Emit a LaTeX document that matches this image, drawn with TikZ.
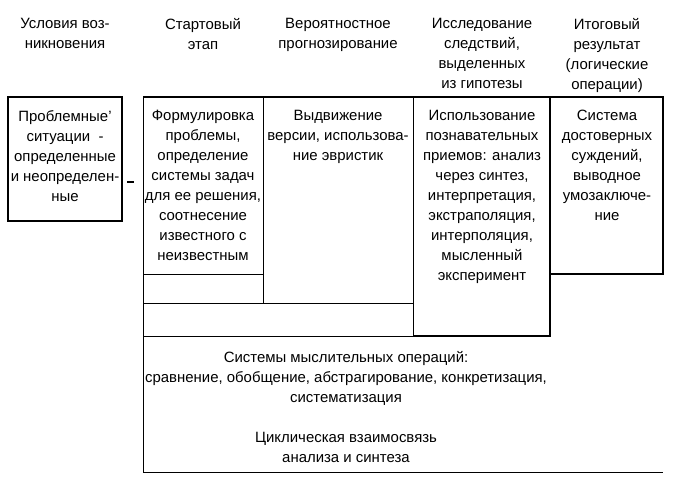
\documentclass[tikz,border=0pt]{standalone}
\usepackage{fontspec}
\setmainfont{Liberation Sans}

\begin{document}
\begin{tikzpicture}[x=0.75pt,y=-0.75pt,
	txt/.style={align=center,anchor=north,inner sep=0pt,font=\fontsize{11.2}{15}\selectfont},
	thin line/.style={line width=0.75pt},
	bold line/.style={line width=1.5pt}]
	\useasboundingbox (0,0) rectangle (673,482);

	% table grid
	\draw[thin line] (143,97) -- (143,472) -- (663,472);
	\draw[thin line] (263,97) -- (263,303);
	\draw[thin line] (413,97) -- (413,336);
	\draw[thin line] (143,274) -- (263,274);
	\draw[thin line] (143,303) -- (413,303);
	\draw[thin line] (143,336) -- (413,336);
	\draw[bold line] (143,97) -- (663,97) -- (663,274) -- (550,274);
	\draw[bold line] (550,97) -- (550,336) -- (413,336);

	% left box
	\draw[bold line] (8,97) rectangle (122,221);
	\draw[line width=2.2pt] (127,182) -- (134,182);

	% headers
	\node[txt] (h1) at (65,18) {Условия воз-\\никновения};
	\node[txt] (h2) at (203,18) {Стартовый\\этап};
	\node[txt] (h3) at (338,18) {Вероятностное\\прогнозирование};
	\node[txt] (h4) at (482,18) {Исследование\\следствий,\\выделенных\\из гипотезы};
	\node[txt] (h5) at (607,18) {Итоговый\\результат\\(логические\\операции)};

	% cells
	\node[txt] (c1) at (65,110) {Проблемные'\\ситуации \ -\\определенные\\и неопределен-\\ные};
	\node[txt] (c2) at (203,110) {Формулировка\\проблемы,\\определение\\системы задач\\для ее решения,\\соотнесение\\известного с\\неизвестным};
	\node[txt] (c3) at (338,110) {Выдвижение\\версии, использова-\\ние эвристик};
	\node[txt] (c4) at (482,110) {Использование\\познавательных\\приемов: анализ\\через синтез,\\интерпретация,\\экстраполяция,\\интерполяция,\\мысленный\\эксперимент};
	\node[txt] (c5) at (607,110) {Система\\достоверных\\суждений,\\выводное\\умозаключе-\\ние};

	\node[txt] (ops) at (346,351) {Системы мыслительных операций:\\сравнение, обобщение, абстрагирование, конкретизация,\\систематизация\\[15pt]Циклическая взаимосвязь\\анализа и синтеза};
\end{tikzpicture}
\end{document}
